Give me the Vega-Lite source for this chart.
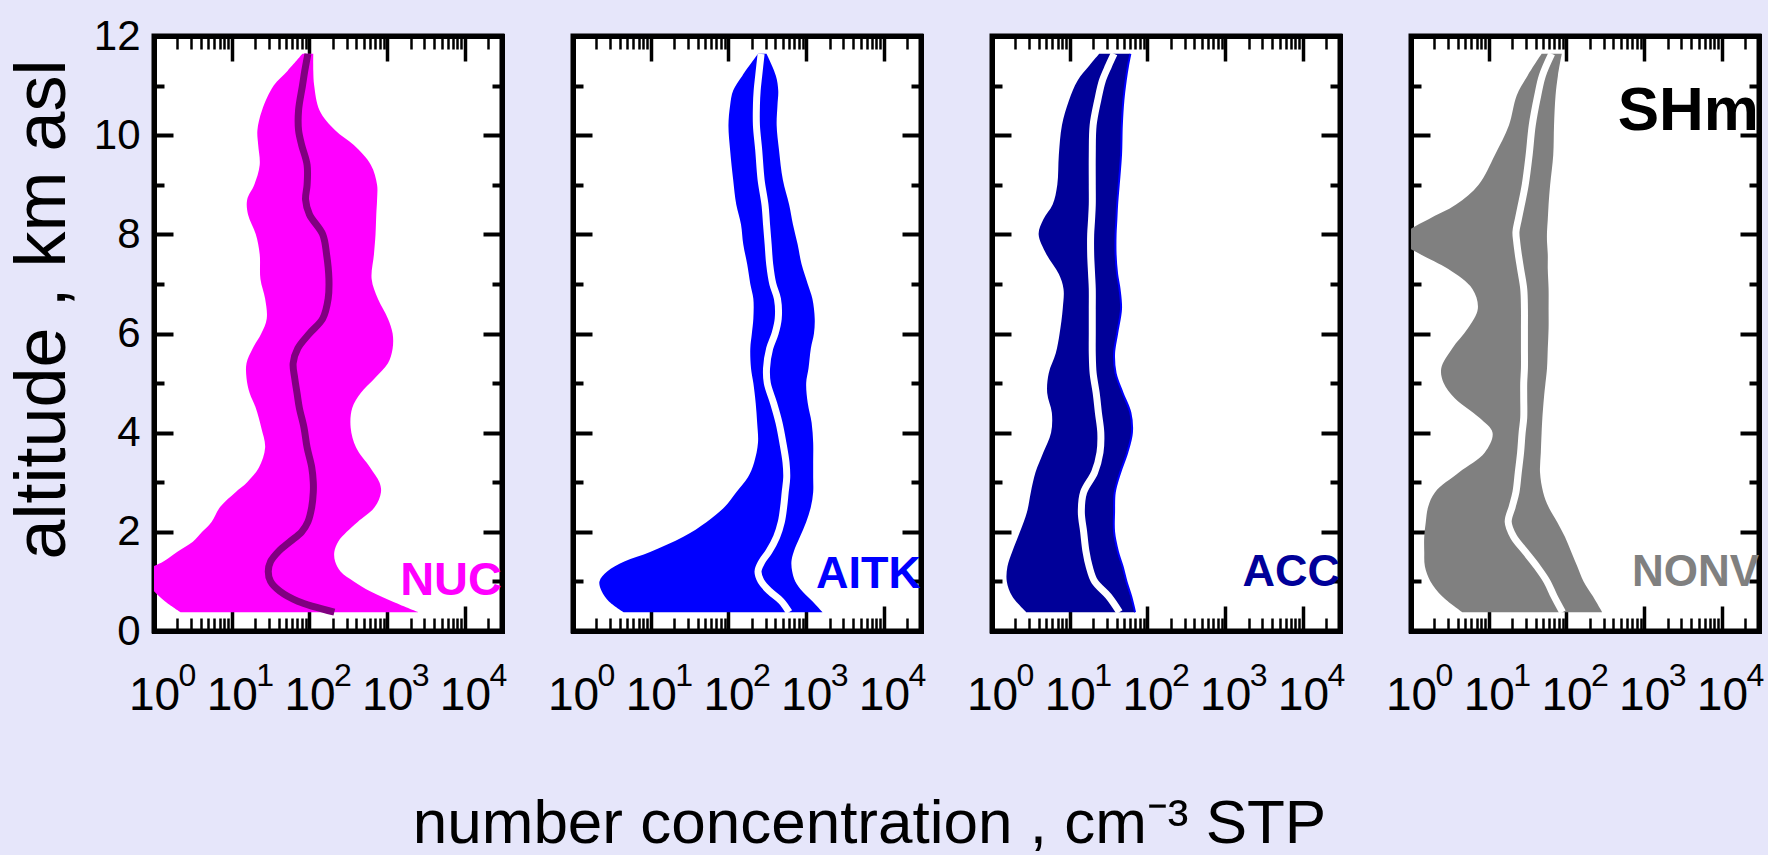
{
"$schema": "https://vega.github.io/schema/vega-lite/v6.json",
"background": "#e6e6fa",
"padding": {"left": 3, "top": 12, "right": 8, "bottom": 0},
"bounds": "flush",
"spacing": 71,
"datasets": {
"nuc": [
{"alt":0.38,"lo":2.19,"hi":2512,"med":209},
{"alt":0.6,"lo":1.38,"hi":1148,"med":70.8},
{"alt":0.8,"lo":1.0,"hi":603,"med":41.7},
{"alt":1.0,"lo":0.79,"hi":372,"med":31.6},
{"alt":1.2,"lo":0.79,"hi":251,"med":29.5},
{"alt":1.4,"lo":1.32,"hi":214,"med":31.6},
{"alt":1.6,"lo":2.0,"hi":209,"med":39.8},
{"alt":1.8,"lo":3.16,"hi":234,"med":56},
{"alt":2.0,"lo":4.17,"hi":302,"med":79.4},
{"alt":2.2,"lo":5.5,"hi":417,"med":95.5},
{"alt":2.5,"lo":7.08,"hi":692,"med":107},
{"alt":2.8,"lo":11.2,"hi":832,"med":112},
{"alt":3.0,"lo":15.8,"hi":794,"med":112},
{"alt":3.3,"lo":22.4,"hi":603,"med":107},
{"alt":3.7,"lo":26.9,"hi":398,"med":93.3},
{"alt":4.1,"lo":24.0,"hi":339,"med":85.1},
{"alt":4.5,"lo":20.4,"hi":355,"med":74.1},
{"alt":4.8,"lo":17.0,"hi":457,"med":69.2},
{"alt":5.1,"lo":15.5,"hi":692,"med":64.6},
{"alt":5.4,"lo":15.5,"hi":1023,"med":61.7},
{"alt":5.7,"lo":18.6,"hi":1175,"med":70.8},
{"alt":6.0,"lo":24.0,"hi":1175,"med":100},
{"alt":6.3,"lo":28.2,"hi":1023,"med":148},
{"alt":6.7,"lo":26.9,"hi":759,"med":174},
{"alt":7.1,"lo":23.4,"hi":631,"med":178},
{"alt":7.6,"lo":22.9,"hi":676,"med":166},
{"alt":8.0,"lo":20.4,"hi":708,"med":148},
{"alt":8.4,"lo":16.2,"hi":724,"med":100},
{"alt":8.7,"lo":15.8,"hi":741,"med":89.1},
{"alt":9.0,"lo":19.5,"hi":741,"med":93.3},
{"alt":9.4,"lo":22.9,"hi":617,"med":93.3},
{"alt":9.8,"lo":21.9,"hi":372,"med":79.4},
{"alt":10.1,"lo":21.4,"hi":214,"med":72.4},
{"alt":10.5,"lo":24.5,"hi":135,"med":72.4},
{"alt":11.0,"lo":34.7,"hi":115,"med":81.3},
{"alt":11.3,"lo":52.5,"hi":112,"med":87.1},
{"alt":11.64,"lo":81.3,"hi":112,"med":95.5}
],
"aitk": [
{"alt":0.38,"lo":4.47,"hi":1622,"med":603},
{"alt":0.6,"lo":2.88,"hi":1202,"med":479},
{"alt":0.8,"lo":2.34,"hi":891,"med":339},
{"alt":1.0,"lo":2.19,"hi":724,"med":263},
{"alt":1.2,"lo":2.75,"hi":661,"med":240},
{"alt":1.4,"lo":4.57,"hi":646,"med":269},
{"alt":1.6,"lo":10.0,"hi":692,"med":331},
{"alt":1.9,"lo":26.3,"hi":832,"med":417},
{"alt":2.2,"lo":52.5,"hi":1000,"med":479},
{"alt":2.5,"lo":89.1,"hi":1148,"med":513},
{"alt":2.8,"lo":126,"hi":1230,"med":537},
{"alt":3.1,"lo":178,"hi":1230,"med":562},
{"alt":3.4,"lo":214,"hi":1230,"med":550},
{"alt":3.8,"lo":240,"hi":1230,"med":501},
{"alt":4.2,"lo":234,"hi":1175,"med":447},
{"alt":4.6,"lo":224,"hi":1047,"med":380},
{"alt":5.0,"lo":209,"hi":1000,"med":316},
{"alt":5.3,"lo":195,"hi":1072,"med":309},
{"alt":5.7,"lo":191,"hi":1148,"med":339},
{"alt":6.0,"lo":200,"hi":1259,"med":398},
{"alt":6.3,"lo":209,"hi":1288,"med":437},
{"alt":6.7,"lo":209,"hi":1202,"med":427},
{"alt":7.0,"lo":191,"hi":1047,"med":372},
{"alt":7.4,"lo":174,"hi":871,"med":339},
{"alt":7.8,"lo":155,"hi":776,"med":324},
{"alt":8.2,"lo":145,"hi":676,"med":309},
{"alt":8.6,"lo":126,"hi":603,"med":295},
{"alt":9.1,"lo":115,"hi":501,"med":263},
{"alt":9.7,"lo":105,"hi":447,"med":245},
{"alt":10.2,"lo":100,"hi":417,"med":229},
{"alt":10.6,"lo":105,"hi":427,"med":229},
{"alt":10.9,"lo":115,"hi":437,"med":234},
{"alt":11.2,"lo":151,"hi":407,"med":245},
{"alt":11.64,"lo":240,"hi":309,"med":263}
],
"acc": [
{"alt":0.38,"lo":2.75,"hi":69.2,"med":43.7},
{"alt":0.7,"lo":1.82,"hi":61.7,"med":31.6},
{"alt":1.0,"lo":1.55,"hi":53.7,"med":20.9},
{"alt":1.3,"lo":1.58,"hi":47.9,"med":17.8},
{"alt":1.6,"lo":1.82,"hi":41.7,"med":16.2},
{"alt":2.0,"lo":2.29,"hi":37.2,"med":15.1},
{"alt":2.4,"lo":2.82,"hi":37.2,"med":14.1},
{"alt":2.8,"lo":3.16,"hi":38.0,"med":15.1},
{"alt":3.2,"lo":3.63,"hi":44.7,"med":20.9},
{"alt":3.6,"lo":4.57,"hi":55.0,"med":24.5},
{"alt":4.0,"lo":5.75,"hi":63.1,"med":25.1},
{"alt":4.4,"lo":5.89,"hi":60.3,"med":23.4},
{"alt":4.8,"lo":5.13,"hi":47.9,"med":21.9},
{"alt":5.2,"lo":5.37,"hi":38.9,"med":20.0},
{"alt":5.6,"lo":6.61,"hi":37.2,"med":19.5},
{"alt":6.0,"lo":7.41,"hi":40.7,"med":19.5},
{"alt":6.5,"lo":8.13,"hi":45.7,"med":19.5},
{"alt":6.9,"lo":8.32,"hi":43.7,"med":19.5},
{"alt":7.2,"lo":7.24,"hi":40.7,"med":19.1},
{"alt":7.6,"lo":5.01,"hi":38.9,"med":18.6},
{"alt":8.0,"lo":3.98,"hi":38.9,"med":18.6},
{"alt":8.3,"lo":4.57,"hi":39.8,"med":19.1},
{"alt":8.6,"lo":6.03,"hi":40.7,"med":19.5},
{"alt":9.0,"lo":6.92,"hi":42.7,"med":19.5},
{"alt":9.6,"lo":7.24,"hi":45.7,"med":19.5},
{"alt":10.2,"lo":7.94,"hi":46.8,"med":20.0},
{"alt":10.7,"lo":9.77,"hi":49.0,"med":22.9},
{"alt":11.1,"lo":12.6,"hi":52.5,"med":26.3},
{"alt":11.4,"lo":17.8,"hi":56.2,"med":31.6},
{"alt":11.64,"lo":24.0,"hi":60.3,"med":37.2}
],
"nonv": [
{"alt":0.38,"lo":4.57,"hi":288,"med":89.1},
{"alt":0.7,"lo":2.51,"hi":219,"med":69.2},
{"alt":1.0,"lo":1.78,"hi":166,"med":56.2},
{"alt":1.3,"lo":1.51,"hi":138,"med":41.7},
{"alt":1.6,"lo":1.48,"hi":115,"med":29.5},
{"alt":1.9,"lo":1.48,"hi":95.5,"med":20.9},
{"alt":2.2,"lo":1.55,"hi":75.9,"med":17.8},
{"alt":2.5,"lo":1.66,"hi":58.9,"med":20.0},
{"alt":2.8,"lo":2.04,"hi":50.1,"med":22.4},
{"alt":3.2,"lo":4.17,"hi":45.7,"med":24.0},
{"alt":3.6,"lo":8.91,"hi":46.8,"med":25.7},
{"alt":4.0,"lo":11.2,"hi":47.9,"med":26.9},
{"alt":4.3,"lo":7.59,"hi":49.0,"med":28.2},
{"alt":4.7,"lo":3.63,"hi":51.3,"med":28.2},
{"alt":5.0,"lo":2.63,"hi":53.7,"med":28.2},
{"alt":5.3,"lo":2.45,"hi":56.2,"med":28.8},
{"alt":5.7,"lo":3.39,"hi":57.5,"med":28.8},
{"alt":6.1,"lo":5.37,"hi":58.9,"med":28.8},
{"alt":6.5,"lo":7.24,"hi":58.9,"med":28.8},
{"alt":6.9,"lo":6.17,"hi":58.9,"med":28.2},
{"alt":7.3,"lo":3.02,"hi":57.5,"med":25.7},
{"alt":7.6,"lo":1.32,"hi":57.5,"med":24.0},
{"alt":7.85,"lo":0.76,"hi":56.2,"med":22.9},
{"alt":8.05,"lo":0.89,"hi":56.2,"med":22.4},
{"alt":8.3,"lo":1.66,"hi":57.5,"med":24.0},
{"alt":8.6,"lo":3.80,"hi":58.9,"med":26.3},
{"alt":9.0,"lo":7.41,"hi":61.7,"med":29.5},
{"alt":9.6,"lo":12.0,"hi":67.6,"med":33.1},
{"alt":10.2,"lo":18.2,"hi":69.2,"med":36.3},
{"alt":10.8,"lo":22.9,"hi":72.4,"med":42.7},
{"alt":11.2,"lo":31.6,"hi":77.6,"med":49.0},
{"alt":11.64,"lo":47.9,"hi":87.1,"med":64.6}
]
},
"hconcat": [
{
"width": 348, "height": 595,
"layer": [
{"data": {"name": "nuc"},
 "mark": {"type": "area", "orient": "horizontal", "color": "#ff00ff", "interpolate": "catmull-rom", "clip": true},
 "encoding": {
  "y": {"field": "alt", "type": "quantitative", "scale": {"domain": [0, 12], "nice": false, "zero": false},
        "axis": {"orient": "left", "values": [0,1,2,3,4,5,6,7,8,9,10,11,12],
                 "tickSize": {"condition": {"test": "datum.value % 2 === 0", "value": -19}, "value": -10}, "tickWidth": 4,
                 "labelExpr": "datum.value % 2 === 0 ? datum.label : ''",
                 "labelFontSize": 42, "labelPadding": 33, "labelAlign": "right", "labelBaseline": "middle",
                 "labelOverlap": false, "labelFlush": false, "labelBound": false,
                 "title": "altitude ,   km  asl", "titleFontSize": 72, "titleFontWeight": "normal",
                 "titleAngle": 270, "titleX": -90, "titleY": 273, "titleBaseline": "alphabetic", "titleAlign": "center"}},
  "x": {"field": "lo", "type": "quantitative", "scale": {"type": "log", "domain": [1, 30000], "nice": false},
        "axis": {"orient": "bottom", "values": [1,2,3,4,5,6,7,8,9,10,20,30,40,50,60,70,80,90,100,200,300,400,500,600,700,800,900,1000,2000,3000,4000,5000,6000,7000,8000,9000,10000,20000],
                 "tickSize": {"condition": {"test": "indexof([1,10,100,1000,10000], datum.value) >= 0", "value": -25}, "value": -13},
                 "tickWidth": {"condition": {"test": "indexof([1,10,100,1000,10000], datum.value) >= 0", "value": 3.5}, "value": 2.5},
                 "labelExpr": "indexof([1,10,100,1000,10000], datum.value) >= 0 ? '10' : ''",
                 "labelFontSize": 46, "labelBaseline": "alphabetic", "labelAlign": "center", "labelPadding": 103,
                 "labelOverlap": false, "labelFlush": false, "labelBound": false, "title": null}},
  "x2": {"field": "hi"}}},
{"data": {"name": "nuc"},
 "mark": {"type": "line", "color": "#800080", "strokeWidth": 7, "interpolate": "catmull-rom", "clip": true, "strokeCap": "butt"},
 "encoding": {
  "y": {"field": "alt", "type": "quantitative", "scale": {"domain": [0, 12], "nice": false, "zero": false},
        "axis": {"orient": "right", "values": [0,1,2,3,4,5,6,7,8,9,10,11,12],
                 "tickSize": {"condition": {"test": "datum.value % 2 === 0", "value": -19}, "value": -10}, "tickWidth": 4, "labels": false, "title": null}},
  "x": {"field": "med", "type": "quantitative", "scale": {"type": "log", "domain": [1, 30000], "nice": false},
        "axis": {"orient": "top", "values": [1,2,3,4,5,6,7,8,9,10,20,30,40,50,60,70,80,90,100,200,300,400,500,600,700,800,900,1000,2000,3000,4000,5000,6000,7000,8000,9000,10000,20000],
                 "tickSize": {"condition": {"test": "indexof([1,10,100,1000,10000], datum.value) >= 0", "value": -25}, "value": -13},
                 "tickWidth": {"condition": {"test": "indexof([1,10,100,1000,10000], datum.value) >= 0", "value": 3.5}, "value": 2.5},
                 "labels": false, "title": null}},
  "order": {"field": "alt", "type": "quantitative"}}},
{"data": {"values": [{"label": "NUC", "conc": 30000, "alt": 0.72}]},
 "mark": {"type": "text", "align": "right", "baseline": "alphabetic", "fontWeight": "bold", "fontSize": 47, "color": "#ff00ff"},
 "encoding": {
  "x": {"field": "conc", "type": "quantitative", "scale": {"type": "log", "domain": [1, 30000], "nice": false},
        "axis": {"orient": "bottom", "values": [1,10,100,1000,10000], "ticks": false, "domain": false,
                 "labelExpr": "'' + indexof([1,10,100,1000,10000], datum.value)",
                 "labelFontSize": 32, "labelAlign": "left", "labelBaseline": "alphabetic",
                 "labelOffset": 24, "labelPadding": 54, "labelOverlap": false, "labelFlush": false, "labelBound": false, "title": null}},
  "y": {"field": "alt", "type": "quantitative", "scale": {"domain": [0, 12], "nice": false, "zero": false}, "axis": null},
  "text": {"field": "label"}}}
],
"resolve": {"axis": {"x": "independent", "y": "independent"}}
},
{
"width": 348, "height": 595,
"layer": [
{"data": {"name": "aitk"},
 "mark": {"type": "area", "orient": "horizontal", "color": "#0000ff", "interpolate": "catmull-rom", "clip": true},
 "encoding": {
  "y": {"field": "alt", "type": "quantitative", "scale": {"domain": [0, 12], "nice": false, "zero": false},
        "axis": {"orient": "left", "values": [0,1,2,3,4,5,6,7,8,9,10,11,12],
                 "tickSize": {"condition": {"test": "datum.value % 2 === 0", "value": -19}, "value": -10}, "tickWidth": 4, "labels": false, "title": null}},
  "x": {"field": "lo", "type": "quantitative", "scale": {"type": "log", "domain": [1, 30000], "nice": false},
        "axis": {"orient": "bottom", "values": [1,2,3,4,5,6,7,8,9,10,20,30,40,50,60,70,80,90,100,200,300,400,500,600,700,800,900,1000,2000,3000,4000,5000,6000,7000,8000,9000,10000,20000],
                 "tickSize": {"condition": {"test": "indexof([1,10,100,1000,10000], datum.value) >= 0", "value": -25}, "value": -13},
                 "tickWidth": {"condition": {"test": "indexof([1,10,100,1000,10000], datum.value) >= 0", "value": 3.5}, "value": 2.5},
                 "labelExpr": "indexof([1,10,100,1000,10000], datum.value) >= 0 ? '10' : ''",
                 "labelFontSize": 46, "labelBaseline": "alphabetic", "labelAlign": "center", "labelPadding": 103,
                 "labelOverlap": false, "labelFlush": false, "labelBound": false,
                 "title": "number concentration ,  cm⁻³ STP", "titleFontSize": 62, "titleFontWeight": "normal",
                 "titleX": 296, "titleY": 211, "titleBaseline": "alphabetic", "titleAlign": "center", "titleAngle": 0}},
  "x2": {"field": "hi"}}},
{"data": {"name": "aitk"},
 "mark": {"type": "line", "color": "#ffffff", "strokeWidth": 7, "interpolate": "catmull-rom", "clip": true, "strokeCap": "butt"},
 "encoding": {
  "y": {"field": "alt", "type": "quantitative", "scale": {"domain": [0, 12], "nice": false, "zero": false},
        "axis": {"orient": "right", "values": [0,1,2,3,4,5,6,7,8,9,10,11,12],
                 "tickSize": {"condition": {"test": "datum.value % 2 === 0", "value": -19}, "value": -10}, "tickWidth": 4, "labels": false, "title": null}},
  "x": {"field": "med", "type": "quantitative", "scale": {"type": "log", "domain": [1, 30000], "nice": false},
        "axis": {"orient": "top", "values": [1,2,3,4,5,6,7,8,9,10,20,30,40,50,60,70,80,90,100,200,300,400,500,600,700,800,900,1000,2000,3000,4000,5000,6000,7000,8000,9000,10000,20000],
                 "tickSize": {"condition": {"test": "indexof([1,10,100,1000,10000], datum.value) >= 0", "value": -25}, "value": -13},
                 "tickWidth": {"condition": {"test": "indexof([1,10,100,1000,10000], datum.value) >= 0", "value": 3.5}, "value": 2.5},
                 "labels": false, "title": null}},
  "order": {"field": "alt", "type": "quantitative"}}},
{"data": {"values": [{"label": "AITK", "conc": 30000, "alt": 0.86}]},
 "mark": {"type": "text", "align": "right", "baseline": "alphabetic", "fontWeight": "bold", "fontSize": 45, "color": "#0000ff"},
 "encoding": {
  "x": {"field": "conc", "type": "quantitative", "scale": {"type": "log", "domain": [1, 30000], "nice": false},
        "axis": {"orient": "bottom", "values": [1,10,100,1000,10000], "ticks": false, "domain": false,
                 "labelExpr": "'' + indexof([1,10,100,1000,10000], datum.value)",
                 "labelFontSize": 32, "labelAlign": "left", "labelBaseline": "alphabetic",
                 "labelOffset": 24, "labelPadding": 54, "labelOverlap": false, "labelFlush": false, "labelBound": false, "title": null}},
  "y": {"field": "alt", "type": "quantitative", "scale": {"domain": [0, 12], "nice": false, "zero": false}, "axis": null},
  "text": {"field": "label"}}}
],
"resolve": {"axis": {"x": "independent", "y": "independent"}}
},
{
"width": 348, "height": 595,
"layer": [
{"data": {"name": "acc"},
 "mark": {"type": "area", "orient": "horizontal", "color": "#000099", "interpolate": "catmull-rom", "clip": true},
 "encoding": {
  "y": {"field": "alt", "type": "quantitative", "scale": {"domain": [0, 12], "nice": false, "zero": false},
        "axis": {"orient": "left", "values": [0,1,2,3,4,5,6,7,8,9,10,11,12],
                 "tickSize": {"condition": {"test": "datum.value % 2 === 0", "value": -19}, "value": -10}, "tickWidth": 4, "labels": false, "title": null}},
  "x": {"field": "lo", "type": "quantitative", "scale": {"type": "log", "domain": [1, 30000], "nice": false},
        "axis": {"orient": "bottom", "values": [1,2,3,4,5,6,7,8,9,10,20,30,40,50,60,70,80,90,100,200,300,400,500,600,700,800,900,1000,2000,3000,4000,5000,6000,7000,8000,9000,10000,20000],
                 "tickSize": {"condition": {"test": "indexof([1,10,100,1000,10000], datum.value) >= 0", "value": -25}, "value": -13},
                 "tickWidth": {"condition": {"test": "indexof([1,10,100,1000,10000], datum.value) >= 0", "value": 3.5}, "value": 2.5},
                 "labelExpr": "indexof([1,10,100,1000,10000], datum.value) >= 0 ? '10' : ''",
                 "labelFontSize": 46, "labelBaseline": "alphabetic", "labelAlign": "center", "labelPadding": 103,
                 "labelOverlap": false, "labelFlush": false, "labelBound": false, "title": null}},
  "x2": {"field": "hi"}}},
{"data": {"name": "acc"},
 "mark": {"type": "line", "color": "#0000ff", "strokeWidth": 2, "interpolate": "catmull-rom", "clip": true},
 "encoding": {
  "y": {"field": "alt", "type": "quantitative", "scale": {"domain": [0, 12], "nice": false, "zero": false}, "axis": null},
  "x": {"field": "hi", "type": "quantitative", "scale": {"type": "log", "domain": [1, 30000], "nice": false}, "axis": null},
  "order": {"field": "alt", "type": "quantitative"}}},
{"data": {"name": "acc"},
 "mark": {"type": "line", "color": "#ffffff", "strokeWidth": 7, "interpolate": "catmull-rom", "clip": true, "strokeCap": "butt"},
 "encoding": {
  "y": {"field": "alt", "type": "quantitative", "scale": {"domain": [0, 12], "nice": false, "zero": false},
        "axis": {"orient": "right", "values": [0,1,2,3,4,5,6,7,8,9,10,11,12],
                 "tickSize": {"condition": {"test": "datum.value % 2 === 0", "value": -19}, "value": -10}, "tickWidth": 4, "labels": false, "title": null}},
  "x": {"field": "med", "type": "quantitative", "scale": {"type": "log", "domain": [1, 30000], "nice": false},
        "axis": {"orient": "top", "values": [1,2,3,4,5,6,7,8,9,10,20,30,40,50,60,70,80,90,100,200,300,400,500,600,700,800,900,1000,2000,3000,4000,5000,6000,7000,8000,9000,10000,20000],
                 "tickSize": {"condition": {"test": "indexof([1,10,100,1000,10000], datum.value) >= 0", "value": -25}, "value": -13},
                 "tickWidth": {"condition": {"test": "indexof([1,10,100,1000,10000], datum.value) >= 0", "value": 3.5}, "value": 2.5},
                 "labels": false, "title": null}},
  "order": {"field": "alt", "type": "quantitative"}}},
{"data": {"values": [{"label": "ACC", "conc": 30000, "alt": 0.9}]},
 "mark": {"type": "text", "align": "right", "baseline": "alphabetic", "fontWeight": "bold", "fontSize": 45, "color": "#000099"},
 "encoding": {
  "x": {"field": "conc", "type": "quantitative", "scale": {"type": "log", "domain": [1, 30000], "nice": false},
        "axis": {"orient": "bottom", "values": [1,10,100,1000,10000], "ticks": false, "domain": false,
                 "labelExpr": "'' + indexof([1,10,100,1000,10000], datum.value)",
                 "labelFontSize": 32, "labelAlign": "left", "labelBaseline": "alphabetic",
                 "labelOffset": 24, "labelPadding": 54, "labelOverlap": false, "labelFlush": false, "labelBound": false, "title": null}},
  "y": {"field": "alt", "type": "quantitative", "scale": {"domain": [0, 12], "nice": false, "zero": false}, "axis": null},
  "text": {"field": "label"}}}
],
"resolve": {"axis": {"x": "independent", "y": "independent"}}
},
{
"width": 348, "height": 595,
"layer": [
{"data": {"name": "nonv"},
 "mark": {"type": "area", "orient": "horizontal", "color": "#808080", "interpolate": "catmull-rom", "clip": true},
 "encoding": {
  "y": {"field": "alt", "type": "quantitative", "scale": {"domain": [0, 12], "nice": false, "zero": false},
        "axis": {"orient": "left", "values": [0,1,2,3,4,5,6,7,8,9,10,11,12],
                 "tickSize": {"condition": {"test": "datum.value % 2 === 0", "value": -19}, "value": -10}, "tickWidth": 4, "labels": false, "title": null}},
  "x": {"field": "lo", "type": "quantitative", "scale": {"type": "log", "domain": [1, 30000], "nice": false},
        "axis": {"orient": "bottom", "values": [1,2,3,4,5,6,7,8,9,10,20,30,40,50,60,70,80,90,100,200,300,400,500,600,700,800,900,1000,2000,3000,4000,5000,6000,7000,8000,9000,10000,20000],
                 "tickSize": {"condition": {"test": "indexof([1,10,100,1000,10000], datum.value) >= 0", "value": -25}, "value": -13},
                 "tickWidth": {"condition": {"test": "indexof([1,10,100,1000,10000], datum.value) >= 0", "value": 3.5}, "value": 2.5},
                 "labelExpr": "indexof([1,10,100,1000,10000], datum.value) >= 0 ? '10' : ''",
                 "labelFontSize": 46, "labelBaseline": "alphabetic", "labelAlign": "center", "labelPadding": 103,
                 "labelOverlap": false, "labelFlush": false, "labelBound": false, "title": null}},
  "x2": {"field": "hi"}}},
{"data": {"name": "nonv"},
 "mark": {"type": "line", "color": "#ffffff", "strokeWidth": 7, "interpolate": "catmull-rom", "clip": true, "strokeCap": "butt"},
 "encoding": {
  "y": {"field": "alt", "type": "quantitative", "scale": {"domain": [0, 12], "nice": false, "zero": false},
        "axis": {"orient": "right", "values": [0,1,2,3,4,5,6,7,8,9,10,11,12],
                 "tickSize": {"condition": {"test": "datum.value % 2 === 0", "value": -19}, "value": -10}, "tickWidth": 4, "labels": false, "title": null}},
  "x": {"field": "med", "type": "quantitative", "scale": {"type": "log", "domain": [1, 30000], "nice": false},
        "axis": {"orient": "top", "values": [1,2,3,4,5,6,7,8,9,10,20,30,40,50,60,70,80,90,100,200,300,400,500,600,700,800,900,1000,2000,3000,4000,5000,6000,7000,8000,9000,10000,20000],
                 "tickSize": {"condition": {"test": "indexof([1,10,100,1000,10000], datum.value) >= 0", "value": -25}, "value": -13},
                 "tickWidth": {"condition": {"test": "indexof([1,10,100,1000,10000], datum.value) >= 0", "value": 3.5}, "value": 2.5},
                 "labels": false, "title": null}},
  "order": {"field": "alt", "type": "quantitative"}}},
{"data": {"values": [{"label": "NONV", "conc": 30000, "alt": 0.9}]},
 "mark": {"type": "text", "align": "right", "baseline": "alphabetic", "fontWeight": "bold", "fontSize": 44, "color": "#808080"},
 "encoding": {
  "x": {"field": "conc", "type": "quantitative", "scale": {"type": "log", "domain": [1, 30000], "nice": false},
        "axis": {"orient": "bottom", "values": [1,10,100,1000,10000], "ticks": false, "domain": false,
                 "labelExpr": "'' + indexof([1,10,100,1000,10000], datum.value)",
                 "labelFontSize": 32, "labelAlign": "left", "labelBaseline": "alphabetic",
                 "labelOffset": 24, "labelPadding": 54, "labelOverlap": false, "labelFlush": false, "labelBound": false, "title": null}},
  "y": {"field": "alt", "type": "quantitative", "scale": {"domain": [0, 12], "nice": false, "zero": false}, "axis": null},
  "text": {"field": "label"}}},
{"data": {"values": [{"label": "SHm", "conc": 30000, "alt": 10.1}]},
 "mark": {"type": "text", "align": "right", "baseline": "alphabetic", "fontWeight": "bold", "fontSize": 62, "color": "#000000"},
 "encoding": {
  "x": {"field": "conc", "type": "quantitative", "scale": {"type": "log", "domain": [1, 30000], "nice": false}, "axis": null},
  "y": {"field": "alt", "type": "quantitative", "scale": {"domain": [0, 12], "nice": false, "zero": false}, "axis": null},
  "text": {"field": "label"}}}
],
"resolve": {"axis": {"x": "independent", "y": "independent"}}
}
],
"config": {
  "view": {"stroke": "#000000", "strokeWidth": 5, "fill": "#ffffff"},
  "font": "Liberation Sans",
  "text": {"font": "Liberation Sans"},
  "axis": {"grid": false, "domain": true, "domainColor": "#000000", "domainWidth": 5, "domainCap": "square",
           "labelFont": "Liberation Sans", "titleFont": "Liberation Sans",
           "tickColor": "#000000", "labelColor": "#000000", "titleColor": "#000000", "zindex": 1}
}
}
